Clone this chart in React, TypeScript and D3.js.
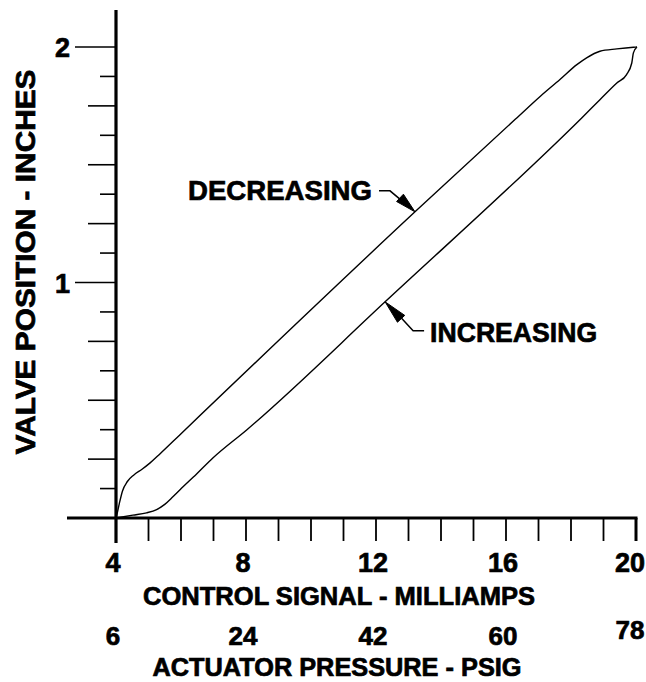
import React from "react";
import * as d3 from "d3";

// ---- data ----
const signalTicks = [4, 8, 12, 16, 20];
const pressureTicks = [6, 24, 42, 60, 78];
const positionTicks = [1, 2];

const decreasingX = [4.0, 4.02, 4.1, 4.2, 4.35, 4.55, 4.8, 5.05, 5.35, 5.97, 13.2, 16.34, 17.05, 17.66, 18.18, 18.48, 18.89, 19.41, 19.92, 20.03];
const decreasingY = [0, 0.01, 0.06, 0.115, 0.155, 0.183, 0.207, 0.234, 0.272, 0.354, 1.3, 1.7, 1.79, 1.862, 1.925, 1.954, 1.982, 1.992, 1.999, 2.0];

const increasingX = [4.0, 4.52, 4.94, 5.25, 5.5, 5.75, 5.97, 6.48, 6.98, 8.02, 12.28, 18.33, 18.89, 19.41, 19.71, 19.87, 19.92, 20.03];
const increasingY = [0, 0.012, 0.022, 0.036, 0.058, 0.09, 0.12, 0.187, 0.255, 0.374, 0.918, 1.699, 1.776, 1.847, 1.883, 1.932, 1.975, 2.0];

const annotations = [
  { label: "DECREASING", x: 13.2, y: 1.3 },
  { label: "INCREASING", x: 12.28, y: 0.918 },
];

const FONT = "'Liberation Sans', Arial, Helvetica, sans-serif";

export default function App() {
  const W = 646, H = 682;
  const x = d3.scaleLinear().domain([4, 20]).range([116, 636]);
  const xp = d3.scaleLinear().domain([6, 78]).range([116, 636]);
  const y = d3.scaleLinear().domain([0, 2]).range([518, 47]);

  const line = d3
    .line<[number, number]>()
    .x((d) => x(d[0]))
    .y((d) => y(d[1]))
    .curve(d3.curveMonotoneX);

  const dec = decreasingX.map((v, i) => [v, decreasingY[i]] as [number, number]);
  const inc = increasingX.map((v, i) => [v, increasingY[i]] as [number, number]);

  const xMinor = d3.range(5, 21, 1);
  const yMinor = d3.range(1, 17).map((k) => k * 0.125);

  const tickStart = (v: number) => {
    const k = Math.round(v / 0.125);
    if (k % 8 === 0) return 75;
    if (k % 2 === 0) return 88;
    return 100;
  };

  const textStyle = {
    fontFamily: FONT,
    fontWeight: 700,
    fill: "#000",
    stroke: "#000",
    strokeWidth: 0.7,
  } as React.CSSProperties;

  const decA = annotations[0];
  const incA = annotations[1];
  const dX = x(decA.x), dY = y(decA.y);
  const iX = x(incA.x), iY = y(incA.y);

  const arrowHead = (tx: number, ty: number, bx: number, by: number, w: number) => {
    const dx = tx - bx, dy = ty - by;
    const len = Math.hypot(dx, dy);
    const nx = -dy / len, ny = dx / len;
    return `M${tx},${ty}L${bx + nx * w},${by + ny * w}L${bx - nx * w},${by - ny * w}Z`;
  };

  return (
    <svg width={W} height={H} style={{ display: "block", position: "absolute", left: 0, top: 0, background: "#fff" }}>
      <rect x={0} y={0} width={W} height={H} fill="#fff" />
      {yMinor.map((v) => (
        <line key={"yt" + v} x1={tickStart(v)} x2={116} y1={y(v)} y2={y(v)} stroke="#000" strokeWidth={1.6} />
      ))}
      {xMinor.map((v) => (
        <line key={"xt" + v} x1={x(v)} x2={x(v)} y1={518} y2={541} stroke="#000" strokeWidth={v === 20 ? 3 : 1.8} />
      ))}
      <line x1={116} x2={116} y1={10} y2={543} stroke="#000" strokeWidth={3.2} />
      <line x1={67} x2={x(20) + 1.5} y1={y(0)} y2={y(0)} stroke="#000" strokeWidth={3.2} />

      <path d={line(dec) || ""} fill="none" stroke="#000" strokeWidth={1.4} />
      <path d={line(inc) || ""} fill="none" stroke="#000" strokeWidth={1.4} />

      {positionTicks.map((v) => (
        <text key={"yl" + v} x={70} y={y(v) + 10} textAnchor="end" fontSize={27} style={textStyle}>
          {v}
        </text>
      ))}
      {signalTicks.map((v, i) => (
        <text key={"xl" + v} x={x(v) - (i === signalTicks.length - 1 ? 6 : 3)} y={572} textAnchor="middle" fontSize={27} style={textStyle}>
          {v}
        </text>
      ))}
      {pressureTicks.map((v, i) => (
        <text key={"pl" + v} x={xp(v) - (i === pressureTicks.length - 1 ? 6 : 3)} y={i === pressureTicks.length - 1 ? 639 : 645} textAnchor="middle" fontSize={26} style={textStyle}>
          {v}
        </text>
      ))}

      <text x={339} y={605} textAnchor="middle" fontSize={26} textLength={392} lengthAdjust="spacingAndGlyphs" style={textStyle}>
        CONTROL SIGNAL - MILLIAMPS
      </text>
      <text x={337} y={676} textAnchor="middle" fontSize={25} textLength={369} lengthAdjust="spacingAndGlyphs" style={textStyle}>
        ACTUATOR PRESSURE - PSIG
      </text>
      <text
        transform={`translate(35,262) rotate(-90)`}
        x={0}
        y={0}
        textAnchor="middle"
        fontSize={27}
        textLength={385}
        lengthAdjust="spacingAndGlyphs"
        style={textStyle}
      >
        VALVE POSITION - INCHES
      </text>

      <text x={dX - 227} y={dY - 12} fontSize={28} textLength={184} lengthAdjust="spacingAndGlyphs" style={textStyle}>
        {decA.label}
      </text>
      <path d={`M${dX - 36},${dY - 21}L${dX - 25},${dY - 21}L${dX - 13},${dY - 11}`} fill="none" stroke="#000" strokeWidth={1.5} />
      <path d={arrowHead(dX, dY, dX - 15, dY - 14, 5)} fill="#000" stroke="#000" strokeWidth={1} />

      <text x={iX + 45} y={iY + 40} fontSize={28} textLength={167} lengthAdjust="spacingAndGlyphs" style={textStyle}>
        {incA.label}
      </text>
      <path d={`M${iX + 39},${iY + 29}L${iX + 28},${iY + 29}L${iX + 16},${iY + 16}`} fill="none" stroke="#000" strokeWidth={1.5} />
      <path d={arrowHead(iX, iY, iX + 16, iY + 17, 5)} fill="#000" stroke="#000" strokeWidth={1} />
    </svg>
  );
}
